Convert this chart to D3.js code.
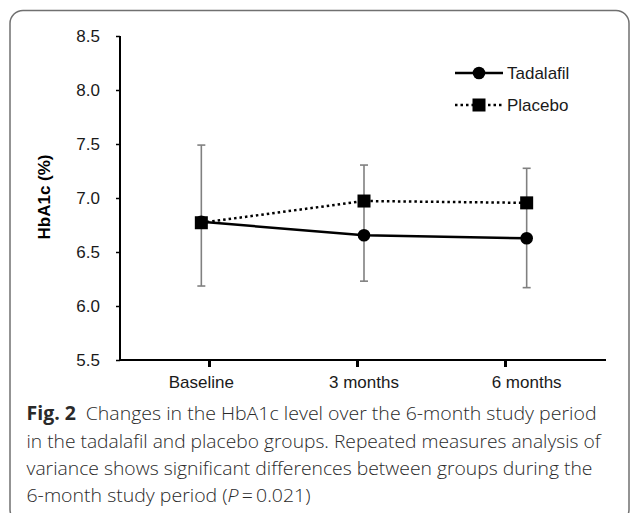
<!DOCTYPE html>
<html>
<head>
<meta charset="utf-8">
<script src="https://cdn.jsdelivr.net/npm/d3@7/dist/d3.min.js"></script>
<style>
  html, body { margin: 0; padding: 0; background: #fff; }
  svg { display: block; }
</style>
</head>
<body>
<svg id="chart" width="630" height="513"></svg>
<script>
// ---- Data ----
const categories = ["Baseline", "3 months", "6 months"];
const tadalafilMean = [6.78, 6.655, 6.627];
const tadalafilLowerErr = [0.595, 0.425, 0.457];   // minus error (SD)
const placeboMean = [6.771, 6.972, 6.955];
const placeboUpperErr = [0.719, 0.333, 0.32];       // plus error (SD)
const yTicks = [5.5, 6.0, 6.5, 7.0, 7.5, 8.0, 8.5];
const seriesNames = ["Tadalafil", "Placebo"];
const yLabel = "HbA1c (%)";
const captionBold = "Fig. 2";
const captionLines = [
  "Changes in the HbA1c level over the 6-month study period",
  "in the tadalafil and placebo groups. Repeated measures analysis of",
  "variance shows significant differences between groups during the",
  "6-month study period ("
];

const svg = d3.select("#chart");
const fontAxis = "'Liberation Sans', Arial, sans-serif";
const fontCap = "'Open Sans', 'Noto Sans', sans-serif";

// frame
svg.append("rect")
  .attr("x", 10).attr("y", 10.5).attr("width", 619).attr("height", 512)
  .attr("rx", 13).attr("ry", 13)
  .attr("fill", "none").attr("stroke", "#707070").attr("stroke-width", 1.5);

// scales
const x = d3.scalePoint().domain(categories).range([120, 608]).padding(0.5);
const xTick = d3.scalePoint().domain(categories).range([209, 505]).padding(0);
const y = d3.scaleLinear().domain([5.5, 8.5]).range([360, 36]);

// y axis
const yAxis = d3.axisLeft(y).tickValues(yTicks).tickFormat(d3.format(".1f")).tickSize(4).tickPadding(16);
const gy = svg.append("g").attr("transform", "translate(120,0)").call(yAxis);
gy.select(".domain").attr("stroke", "#000").attr("stroke-width", 2).attr("d", `M0,${y(8.5)}V${y(5.5)+1}`);
gy.selectAll(".tick line").attr("stroke", "#000").attr("stroke-width", 1.5);
gy.selectAll(".tick text").attr("font-family", fontAxis).attr("font-size", 17).attr("fill", "#1a1a1a");

// x axis line + ticks
const xAxis = d3.axisBottom(xTick).tickFormat("").tickSize(7).tickSizeOuter(0);
const gx = svg.append("g").attr("transform", "translate(0,360)").call(xAxis);
gx.select(".domain").attr("stroke", "#000").attr("stroke-width", 2).attr("d", "M119,0H606");
gx.selectAll(".tick line").attr("stroke", "#000").attr("stroke-width", 3);
// x labels at category centres
svg.append("g").selectAll("text").data(categories).join("text")
  .attr("x", d => x(d)).attr("y", 388)
  .attr("text-anchor", "middle")
  .attr("font-family", fontAxis).attr("font-size", 17).attr("fill", "#1a1a1a")
  .text(d => d);

// y label
svg.append("text")
  .attr("transform", `translate(50,197) rotate(-90)`)
  .attr("text-anchor", "middle")
  .attr("font-family", fontAxis).attr("font-size", 17).attr("font-weight", "bold")
  .attr("fill", "#000")
  .text(yLabel);

// error bars (union stem: tadalafil minus to placebo plus)
const errG = svg.append("g").attr("stroke", "#808080").attr("stroke-width", 1.6);
categories.forEach((c, i) => {
  const cx = x(c);
  const lo = tadalafilMean[i] - tadalafilLowerErr[i];
  const hi = placeboMean[i] + placeboUpperErr[i];
  errG.append("line").attr("x1", cx).attr("x2", cx).attr("y1", y(lo)).attr("y2", y(hi));
  errG.append("line").attr("x1", cx - 4).attr("x2", cx + 4).attr("y1", y(lo)).attr("y2", y(lo));
  errG.append("line").attr("x1", cx - 4).attr("x2", cx + 4).attr("y1", y(hi)).attr("y2", y(hi));
});

// lines
const line = d3.line().x((d, i) => x(categories[i])).y(d => y(d));
svg.append("path").datum(tadalafilMean).attr("d", line)
  .attr("fill", "none").attr("stroke", "#000").attr("stroke-width", 2.5);
svg.append("path").datum(placeboMean).attr("d", line)
  .attr("fill", "none").attr("stroke", "#000").attr("stroke-width", 2.5)
  .attr("stroke-dasharray", "2.5,3");

// markers
svg.append("g").selectAll("circle").data(tadalafilMean).join("circle")
  .attr("cx", (d, i) => x(categories[i])).attr("cy", d => y(d)).attr("r", 6.3).attr("fill", "#000");
svg.append("g").selectAll("rect").data(placeboMean).join("rect")
  .attr("x", (d, i) => x(categories[i]) - 6.5).attr("y", d => y(d) - 6.5)
  .attr("width", 13).attr("height", 13).attr("fill", "#000");

// legend
const lg = svg.append("g");
const rows = [73, 105];
lg.append("line").attr("x1", 455).attr("x2", 503).attr("y1", rows[0]).attr("y2", rows[0])
  .attr("stroke", "#000").attr("stroke-width", 2.5);
lg.append("circle").attr("cx", 479).attr("cy", rows[0]).attr("r", 6.3).attr("fill", "#000");
lg.append("line").attr("x1", 455).attr("x2", 503).attr("y1", rows[1]).attr("y2", rows[1])
  .attr("stroke", "#000").attr("stroke-width", 2.5).attr("stroke-dasharray", "2.5,3");
lg.append("rect").attr("x", 472.5).attr("y", rows[1] - 6.5).attr("width", 13).attr("height", 13).attr("fill", "#000");
lg.selectAll("text").data(seriesNames).join("text")
  .attr("x", 507).attr("y", (d, i) => rows[i] + 6)
  .attr("font-family", fontAxis).attr("font-size", 17).attr("fill", "#1a1a1a")
  .text(d => d);

// caption
const capG = svg.append("g").attr("font-family", fontCap).attr("font-size", 19).attr("font-weight", 300).attr("fill", "#2a2a2a");
const capBase = [420, 447.5, 475, 502];
const t1 = capG.append("text").attr("x", 26.5).attr("y", capBase[0]).attr("textLength", 570).attr("lengthAdjust", "spacingAndGlyphs");
t1.append("tspan").attr("font-weight", "bold").text(captionBold);
t1.append("tspan").text("\u2002" + captionLines[0]);
capG.append("text").attr("x", 26.5).attr("y", capBase[1]).attr("textLength", 574).attr("lengthAdjust", "spacingAndGlyphs").text(captionLines[1]);
capG.append("text").attr("x", 26.5).attr("y", capBase[2]).attr("textLength", 566).attr("lengthAdjust", "spacingAndGlyphs").text(captionLines[2]);
const t4 = capG.append("text").attr("x", 26.5).attr("y", capBase[3]).attr("textLength", 284).attr("lengthAdjust", "spacingAndGlyphs");
t4.append("tspan").text(captionLines[3]);
t4.append("tspan").attr("font-style", "italic").text("P");
t4.append("tspan").text("\u2009=\u20090.021)");
</script>
</body>
</html>
